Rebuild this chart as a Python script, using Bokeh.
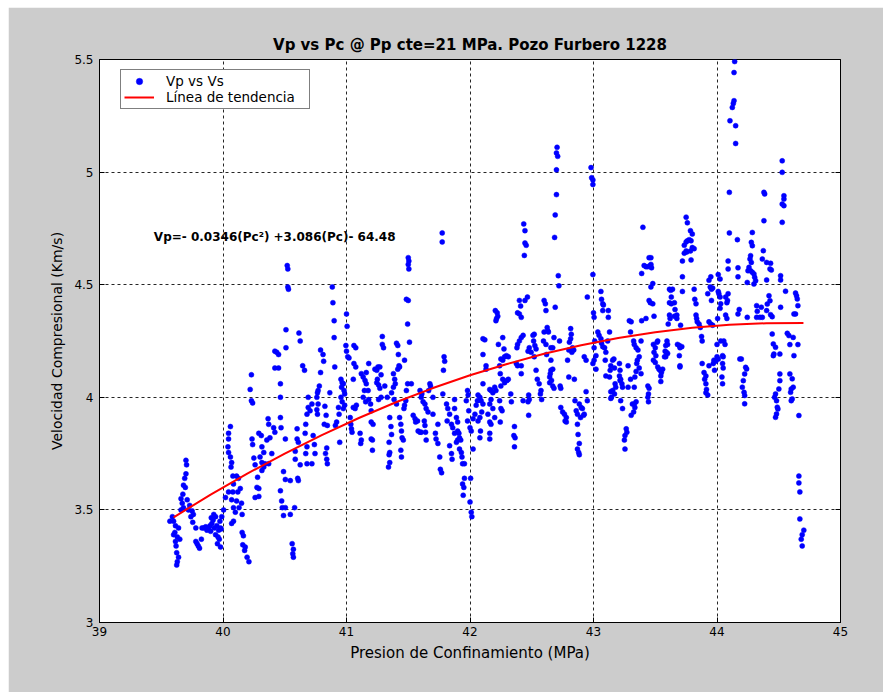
from bokeh.plotting import figure
from bokeh.models import FixedTicker, LinearAxis, Label, Range1d, Spacer, CustomLabelingPolicy
from bokeh.layouts import row, column
from bokeh.embed import file_html
from bokeh.resources import INLINE

titulo = "Vp vs Pc @ Pp cte=21 MPa. Pozo Furbero 1228"
etiqueta_x = "Presion de Confinamiento (MPa)"
etiqueta_y = "Velocidad Compresional (Km/s)"
serie_puntos = "Vp vs Vs"
serie_tendencia = "Línea de tendencia"
ecuacion = "Vp=- 0.0346(Pc²) +3.086(Pc)- 64.48"
ecuacion_pc = 39.44
ecuacion_vp = 4.71

x_ticks = [39, 40, 41, 42, 43, 44, 45]
y_ticks = [3.0, 3.5, 4.0, 4.5, 5.0, 5.5]
y_tick_labels = ["3", "3.5", "4", "4.5", "5", "5.5"]

# (Pc MPa, Vp km/s)
grupo_39_40 = [
    (39.57, 3.45), (39.60, 3.45), (39.615, 3.43), (39.61, 3.40), (39.63, 3.38), (39.615, 3.36),
    (39.65, 3.37), (39.62, 3.34), (39.64, 3.29), (39.63, 3.27), (39.625, 3.255), (39.70, 3.72),
    (39.705, 3.70), (39.69, 3.64), (39.68, 3.61), (39.695, 3.60), (39.71, 3.545), (39.67, 3.53),
    (39.68, 3.51), (39.66, 3.50), (39.73, 3.52), (39.75, 3.495), (39.76, 3.48), (39.74, 3.47),
    (39.755, 3.445), (39.78, 3.42), (39.78, 3.36), (39.80, 3.34), (39.81, 3.33), (39.825, 3.37),
    (39.83, 3.42), (39.86, 3.425), (39.885, 3.42), (39.91, 3.44), (39.905, 3.465), (39.925, 3.48),
    (39.93, 3.42), (39.95, 3.43), (39.965, 3.41), (39.98, 3.42), (39.985, 3.415), (39.96, 3.38),
    (39.97, 3.37), (39.94, 3.39), (39.955, 3.35), (39.98, 3.335), (39.87, 3.41), (39.895, 3.43),
    (39.92, 3.455), (39.94, 3.47), (39.90, 3.405), (39.845, 3.42), (39.59, 3.47), (39.64, 3.42),
    (39.60, 3.39), (39.625, 3.31), (39.66, 3.55), (39.675, 3.57), (39.70, 3.66), (39.72, 3.50),
    (39.79, 3.35), (39.975, 3.45), (39.99, 3.47),
]
grupo_40_405 = [
    (40.06, 3.87), (40.045, 3.84), (40.045, 3.815), (40.04, 3.78), (40.045, 3.755), (40.06, 3.735),
    (40.07, 3.71), (40.065, 3.69), (40.08, 3.65), (40.11, 3.65), (40.125, 3.64), (40.085, 3.615),
    (40.045, 3.58), (40.08, 3.58), (40.12, 3.58), (40.14, 3.595), (40.02, 3.555), (40.07, 3.545),
    (40.11, 3.54), (40.15, 3.53), (40.085, 3.51), (40.13, 3.51), (40.005, 3.50), (40.10, 3.49),
    (40.155, 3.48), (40.085, 3.45), (40.07, 3.44), (40.155, 3.40), (40.165, 3.385), (40.16, 3.345),
    (40.18, 3.335), (40.175, 3.32), (40.195, 3.29), (40.21, 3.27), (40.23, 4.10), (40.22, 4.035),
    (40.23, 3.985), (40.24, 3.975), (40.235, 3.815), (40.24, 3.79), (40.29, 3.84), (40.31, 3.83),
    (40.315, 3.78), (40.33, 3.755), (40.30, 3.735), (40.25, 3.73), (40.26, 3.70), (40.315, 3.71),
    (40.34, 3.705), (40.28, 3.645), (40.275, 3.60), (40.29, 3.595), (40.26, 3.555), (40.29, 3.56),
    (40.315, 3.675), (40.33, 3.69), (40.365, 3.905), (40.37, 3.88), (40.38, 3.82), (40.355, 3.81),
    (40.41, 3.865), (40.42, 3.845), (40.395, 3.75), (40.37, 3.705), (40.42, 4.205), (40.435, 4.20),
    (40.45, 4.19), (40.42, 4.13), (40.45, 4.13), (40.465, 4.06), (40.465, 4.0), (40.465, 3.91),
    (40.47, 3.865), (40.49, 3.67), (40.465, 3.585), (40.475, 3.54), (40.48, 3.51), (40.49, 3.475),
]
grupo_405_41 = [
    (40.51, 4.30), (40.51, 4.22), (40.505, 3.815), (40.505, 3.635), (40.545, 3.63), (40.505, 3.51),
    (40.545, 3.48), (40.58, 3.51), (40.56, 3.35), (40.57, 3.325), (40.565, 3.305), (40.57, 3.29),
    (40.615, 4.285), (40.625, 4.25), (40.645, 4.14), (40.66, 4.12), (40.60, 3.86), (40.60, 3.815),
    (40.61, 3.80), (40.585, 3.76), (40.585, 3.725), (40.625, 3.70), (40.605, 3.64), (40.61, 3.63),
    (40.665, 3.84), (40.68, 3.925), (40.69, 3.955), (40.69, 4.0), (40.705, 3.94), (40.67, 3.88),
    (40.68, 3.78), (40.67, 3.75), (40.68, 3.705), (40.53, 4.48), (40.525, 4.49), (40.52, 4.585),
    (40.525, 4.57), (40.73, 3.83), (40.74, 3.79), (40.745, 3.75), (40.72, 3.705), (40.72, 3.97),
    (40.79, 4.21), (40.81, 4.19), (40.815, 4.16), (40.79, 4.11), (40.78, 4.05), (40.77, 4.03),
    (40.765, 4.02), (40.76, 4.0), (40.77, 3.97), (40.76, 3.945), (40.765, 3.925), (40.825, 3.96),
    (40.835, 3.92), (40.82, 3.88), (40.845, 3.875), (40.84, 3.775), (40.83, 3.75), (40.84, 3.725),
    (40.845, 3.705), (40.865, 4.02), (40.885, 4.49), (40.89, 4.42), (40.90, 4.34), (40.90, 4.265),
    (40.905, 4.135), (40.92, 3.89), (40.91, 3.875), (40.935, 3.955), (40.94, 3.925), (40.945, 3.80),
    (40.955, 4.08), (40.965, 4.065), (40.975, 4.06), (40.96, 4.045), (40.98, 4.03), (40.985, 4.015),
    (40.955, 4.0), (40.965, 3.98), (40.985, 3.965), (40.975, 3.95),
]
grupo_41_415 = [
    (41.0, 4.37), (41.005, 4.315), (40.995, 4.23), (41.0, 4.205), (41.01, 4.18), (41.02, 4.175),
    (41.03, 3.91), (41.035, 3.88), (41.04, 3.86), (41.045, 3.845), (41.055, 3.955), (41.07, 3.95),
    (41.08, 3.965), (41.06, 4.23), (41.075, 4.22), (41.06, 4.15), (41.075, 4.135), (41.055, 4.08),
    (41.12, 4.105), (41.135, 4.09), (41.15, 4.075), (41.16, 4.06), (41.18, 4.15), (41.16, 4.11),
    (41.175, 4.03), (41.18, 3.99), (41.195, 3.97), (41.20, 3.94), (41.145, 4.03), (41.135, 4.0),
    (41.155, 3.98), (41.11, 3.84), (41.12, 3.81), (41.115, 3.795), (41.20, 3.89), (41.215, 3.88),
    (41.20, 3.815), (41.21, 3.81), (41.21, 3.765), (41.23, 4.125), (41.245, 4.12), (41.255, 4.135),
    (41.27, 4.135), (41.28, 4.10), (41.25, 4.08), (41.245, 4.065), (41.26, 4.055), (41.27, 4.04),
    (41.28, 4.0), (41.26, 3.99), (41.29, 4.27), (41.29, 4.235), (41.30, 4.22), (41.31, 4.05),
    (41.33, 4.0), (41.35, 3.91), (41.36, 3.87), (41.365, 3.835), (41.345, 3.80), (41.35, 3.755),
    (41.345, 3.745), (41.35, 3.71), (41.34, 3.69), (41.38, 4.105), (41.39, 4.08), (41.395, 4.06),
    (41.38, 4.045), (41.365, 4.02), (41.385, 3.99), (41.405, 3.97), (41.405, 4.24), (41.415, 4.23),
    (41.42, 4.19), (41.425, 4.14), (41.43, 4.135), (41.415, 4.125), (41.43, 3.91), (41.44, 3.88),
    (41.445, 3.85), (41.45, 3.82), (41.46, 3.81), (41.44, 3.765), (41.445, 3.735), (41.47, 4.165),
    (41.485, 4.03), (41.48, 3.985), (41.47, 3.965), (41.465, 3.95), (41.495, 4.06), (41.485, 4.435),
    (41.50, 4.43), (41.495, 4.325),
]
grupo_415_42 = [
    (41.51, 4.245), (41.50, 4.62), (41.505, 4.605), (41.50, 4.59), (41.505, 4.57), (41.525, 4.06),
    (41.54, 3.92), (41.555, 3.905), (41.56, 3.89), (41.575, 3.895), (41.58, 3.85), (41.595, 3.845),
    (41.605, 3.845), (41.595, 4.03), (41.61, 4.015), (41.605, 4.0), (41.62, 3.98), (41.635, 3.97),
    (41.645, 3.95), (41.66, 3.935), (41.63, 3.895), (41.635, 3.875), (41.64, 3.845), (41.645, 3.81),
    (41.675, 4.06), (41.68, 4.05), (41.665, 4.03), (41.70, 4.0), (41.70, 3.925), (41.72, 3.84),
    (41.725, 3.815), (41.74, 3.795), (41.755, 3.735), (41.76, 3.68), (41.77, 3.665), (41.74, 3.88),
    (41.78, 4.015), (41.775, 4.73), (41.775, 4.69), (41.79, 4.18), (41.795, 4.16), (41.785, 4.12),
    (41.81, 3.97), (41.82, 3.95), (41.815, 3.895), (41.835, 3.925), (41.85, 3.88), (41.86, 3.865),
    (41.875, 3.99), (41.875, 3.95), (41.89, 3.91), (41.90, 3.89), (41.90, 3.85), (41.91, 3.84),
    (41.915, 3.82), (41.925, 3.81), (41.835, 3.785), (41.85, 3.75), (41.855, 3.725), (41.89, 3.80),
    (41.90, 3.81), (41.915, 3.77), (41.93, 3.755), (41.935, 3.735), (41.94, 3.705), (41.955, 3.705),
    (41.875, 3.84), (41.955, 3.64), (41.94, 3.615), (41.95, 3.60), (41.945, 3.565), (41.98, 4.03),
    (41.985, 4.01), (41.97, 3.985), (41.99, 3.94), (41.98, 3.895),
]
grupo_42_425 = [
    (42.0, 3.865), (42.01, 3.85), (42.025, 3.77), (42.005, 3.64), (42.0, 3.535), (42.01, 3.49),
    (42.015, 3.47), (42.025, 3.905), (42.04, 3.925), (42.05, 3.965), (42.06, 3.985), (42.065, 4.01),
    (42.08, 4.0), (42.09, 3.985), (42.105, 3.97), (42.095, 3.935), (42.08, 3.91), (42.065, 3.895),
    (42.085, 3.85), (42.08, 3.82), (42.105, 4.06), (42.13, 4.125), (42.13, 4.14), (42.105, 4.26),
    (42.12, 4.255), (42.105, 4.19), (42.16, 4.035), (42.17, 4.03), (42.185, 4.02), (42.20, 4.045),
    (42.21, 4.03), (42.17, 3.99), (42.16, 3.97), (42.145, 3.925), (42.16, 3.89), (42.17, 3.88),
    (42.16, 3.84), (42.16, 3.815), (42.20, 3.91), (42.185, 3.95), (42.205, 4.385), (42.22, 4.375),
    (42.225, 4.36), (42.215, 4.35), (42.21, 4.34), (42.23, 4.235), (42.265, 4.265), (42.275, 4.215),
    (42.25, 4.17), (42.265, 4.165), (42.28, 4.18), (42.295, 4.185), (42.31, 4.18), (42.24, 4.14),
    (42.245, 4.105), (42.265, 4.08), (42.28, 4.065), (42.30, 4.075), (42.31, 4.08), (42.25, 4.05),
    (42.24, 3.985), (42.25, 3.95), (42.26, 3.94), (42.245, 3.89), (42.33, 4.015), (42.335, 3.98),
    (42.36, 3.87), (42.355, 3.83), (42.365, 3.82), (42.36, 3.78), (42.375, 4.15), (42.385, 4.14),
    (42.415, 4.14), (42.415, 4.105), (42.40, 4.43), (42.41, 4.405), (42.385, 4.375), (42.40, 4.37),
    (42.415, 4.355), (42.43, 4.275), (42.415, 4.265), (42.40, 4.25), (42.385, 4.235), (42.38, 4.22),
    (42.43, 3.985), (42.435, 4.77), (42.445, 4.74), (42.445, 4.685), (42.455, 4.675), (42.44, 4.63),
    (42.465, 4.445), (42.445, 4.43), (42.47, 4.205), (42.48, 4.22), (42.495, 4.20), (42.475, 4.01),
    (42.48, 3.99), (42.47, 3.98), (42.475, 3.92),
]
grupo_425_43 = [
    (42.51, 4.275), (42.52, 4.28), (42.515, 4.25), (42.525, 4.23), (42.535, 4.215), (42.52, 4.18),
    (42.535, 4.12), (42.545, 4.08), (42.56, 4.06), (42.575, 4.03), (42.57, 4.015), (42.58, 3.99),
    (42.60, 4.43), (42.61, 4.415), (42.615, 4.385), (42.625, 4.31), (42.63, 4.295), (42.635, 4.29),
    (42.62, 4.19), (42.645, 4.09), (42.645, 4.065), (42.60, 4.29), (42.595, 4.25), (42.615, 4.235),
    (42.65, 4.105), (42.705, 5.11), (42.70, 5.085), (42.71, 5.07), (42.70, 5.01), (42.70, 4.90),
    (42.69, 4.81), (42.685, 4.71), (42.715, 4.54), (42.72, 4.495), (42.69, 4.40), (42.68, 4.265),
    (42.655, 4.22), (42.67, 4.22), (42.655, 4.165), (42.67, 4.125), (42.655, 4.12), (42.66, 4.075),
    (42.67, 4.05), (42.68, 4.04), (42.725, 4.25), (42.73, 4.05), (42.735, 4.04), (42.735, 3.955),
    (42.75, 3.935), (42.765, 3.925), (42.78, 3.91), (42.77, 3.895), (42.78, 3.89), (42.80, 4.09),
    (42.815, 4.305), (42.82, 4.28), (42.815, 4.26), (42.805, 4.245), (42.80, 4.21), (42.79, 4.165),
    (42.83, 4.22), (42.84, 4.21), (42.825, 4.20), (42.845, 4.08), (42.85, 3.985), (42.86, 3.94),
    (42.87, 3.925), (42.885, 3.97), (42.90, 3.955), (42.91, 3.95), (42.895, 3.91), (42.92, 3.92),
    (42.87, 3.88), (42.875, 3.835), (42.885, 3.795), (42.87, 3.77), (42.88, 3.755), (42.885, 3.745),
    (42.94, 4.025), (42.95, 3.985), (42.925, 3.925), (42.925, 4.18), (42.94, 4.165), (42.95, 4.445),
    (42.98, 5.02), (42.985, 4.975), (42.995, 4.965), (42.995, 4.945), (42.995, 4.545), (42.995, 4.15),
]
grupo_43_435 = [
    (43.0, 4.375), (43.005, 4.355), (43.01, 4.25), (43.005, 4.22), (43.02, 4.185), (43.005, 4.165),
    (43.02, 4.125), (43.035, 4.29), (43.045, 4.275), (43.06, 4.26), (43.065, 4.24), (43.075, 4.225),
    (43.06, 4.47), (43.065, 4.435), (43.075, 4.415), (43.075, 4.385), (43.08, 4.41), (43.09, 4.22),
    (43.10, 4.20), (43.115, 4.25), (43.12, 4.355), (43.12, 4.385), (43.13, 4.29), (43.095, 4.165),
    (43.10, 4.095), (43.13, 4.09), (43.135, 4.12), (43.14, 4.14), (43.155, 4.165), (43.17, 4.13),
    (43.175, 4.06), (43.18, 4.045), (43.14, 4.025), (43.155, 4.03), (43.145, 4.0), (43.14, 3.995),
    (43.17, 4.015), (43.165, 4.17), (43.21, 4.15), (43.215, 4.12), (43.21, 4.095), (43.22, 4.08),
    (43.215, 4.075), (43.23, 4.06), (43.235, 4.045), (43.22, 3.985), (43.235, 3.95), (43.265, 3.86),
    (43.27, 3.845), (43.255, 3.83), (43.25, 3.81), (43.255, 3.77), (43.29, 4.34), (43.305, 4.335),
    (43.30, 4.29), (43.28, 4.14), (43.30, 4.08), (43.28, 4.045), (43.305, 3.92), (43.315, 3.97),
    (43.33, 3.97), (43.335, 3.955), (43.325, 3.935), (43.345, 3.98), (43.325, 4.25), (43.33, 4.235),
    (43.345, 4.22), (43.36, 4.21), (43.37, 4.18), (43.355, 4.165), (43.35, 4.15), (43.345, 4.115),
    (43.335, 4.09), (43.33, 4.045), (43.385, 4.25), (43.39, 4.34), (43.425, 4.35), (43.385, 4.105),
    (43.37, 4.13), (43.40, 4.755), (43.39, 4.55), (43.41, 4.585), (43.425, 4.58), (43.44, 4.58),
    (43.45, 4.62), (43.46, 4.585), (43.45, 4.43), (43.44, 4.05), (43.45, 4.04), (43.445, 4.015),
    (43.44, 4.0), (43.445, 3.98), (43.465, 4.62), (43.465, 4.59), (43.47, 4.575), (43.48, 4.505),
    (43.465, 4.49), (43.46, 4.42), (43.48, 4.415), (43.49, 4.36), (43.485, 4.235), (43.49, 4.20),
    (43.485, 4.165),
]
grupo_435_44 = [
    (43.50, 4.22), (43.505, 4.185), (43.50, 4.155), (43.515, 4.245), (43.52, 4.25), (43.52, 4.135),
    (43.53, 4.125), (43.54, 4.12), (43.55, 4.11), (43.545, 4.095), (43.56, 4.125), (43.575, 4.18),
    (43.58, 4.205), (43.585, 4.23), (43.595, 4.25), (43.60, 4.235), (43.59, 4.20), (43.585, 4.18),
    (43.60, 4.195), (43.545, 4.07), (43.615, 4.48), (43.625, 4.475), (43.64, 4.48), (43.63, 4.445),
    (43.615, 4.42), (43.63, 4.415), (43.655, 4.42), (43.66, 4.39), (43.615, 4.365), (43.62, 4.35),
    (43.605, 4.325), (43.655, 4.36), (43.675, 4.365), (43.675, 4.35), (43.705, 4.32), (43.68, 4.235),
    (43.695, 4.23), (43.70, 4.22), (43.715, 4.225), (43.695, 4.185), (43.70, 4.14), (43.70, 4.135),
    (43.72, 4.535), (43.72, 4.47), (43.72, 4.605), (43.735, 4.675), (43.75, 4.69), (43.76, 4.695),
    (43.775, 4.70), (43.79, 4.695), (43.80, 4.665), (43.815, 4.66), (43.785, 4.65), (43.75, 4.65),
    (43.735, 4.64), (43.755, 4.645), (43.79, 4.61), (43.785, 4.74), (43.80, 4.725), (43.75, 4.80),
    (43.76, 4.775), (43.815, 4.48), (43.82, 4.435), (43.83, 4.415), (43.83, 4.365), (43.835, 4.35),
    (43.84, 4.335), (43.855, 4.325), (43.865, 4.31), (43.875, 4.27), (43.88, 4.25), (43.88, 4.15),
    (43.895, 4.11), (43.91, 4.095), (43.90, 4.08), (43.91, 4.06), (43.915, 4.035), (43.91, 4.02),
    (43.925, 4.01), (43.935, 4.14), (43.925, 4.46), (43.935, 4.52), (43.95, 4.535), (43.945, 4.49),
    (43.955, 4.48), (43.965, 4.485), (43.955, 4.43), (43.935, 4.335), (43.95, 4.325), (43.965, 4.32),
    (43.975, 4.165), (43.97, 4.15), (43.98, 4.12), (43.99, 4.16),
]
grupo_44_45 = [
    (44.0, 4.18), (44.01, 4.17), (44.0, 4.235), (44.005, 4.35), (44.01, 4.47), (44.015, 4.46),
    (44.025, 4.445), (44.03, 4.415), (44.025, 4.395), (44.01, 4.545), (44.025, 4.525), (44.045, 4.185),
    (44.05, 4.18), (44.045, 4.15), (44.05, 4.13), (44.04, 4.09), (44.045, 4.06), (44.03, 4.25),
    (44.055, 4.25), (44.065, 4.235), (44.07, 4.365), (44.08, 4.35), (44.07, 4.445), (44.09, 4.46),
    (44.085, 4.43), (44.08, 4.42), (44.09, 4.605), (44.10, 4.91), (44.10, 4.73), (44.09, 4.57),
    (44.165, 4.70), (44.17, 4.575), (44.17, 4.535), (44.18, 4.39), (44.17, 4.37), (44.185, 4.17),
    (44.143, 5.491), (44.138, 5.442), (44.138, 5.317), (44.132, 5.305), (44.124, 5.287), (44.105, 5.228),
    (44.151, 5.206), (44.151, 5.127), (44.528, 5.05), (44.528, 4.999), (44.38, 4.91), (44.386, 4.903),
    (44.38, 4.784), (44.542, 4.895), (44.542, 4.88), (44.528, 4.858), (44.542, 4.851), (44.528, 4.777),
    (44.286, 4.732), (44.278, 4.688), (44.286, 4.673), (44.272, 4.629), (44.267, 4.614), (44.278, 4.599),
    (44.259, 4.577), (44.251, 4.562), (44.272, 4.562), (44.286, 4.555), (44.299, 4.548), (44.305, 4.533),
    (44.313, 4.518), (44.299, 4.503), (44.245, 4.51), (44.375, 4.651), (44.367, 4.614), (44.402, 4.599),
    (44.434, 4.595), (44.429, 4.57), (44.44, 4.565), (44.402, 4.521), (44.515, 4.54), (44.515, 4.521),
    (44.555, 4.471), (44.636, 4.463), (44.644, 4.451), (44.65, 4.437), (44.655, 4.407), (44.636, 4.37),
    (44.245, 4.355), (44.321, 4.407), (44.326, 4.382), (44.321, 4.355), (44.348, 4.355), (44.367, 4.355),
    (44.359, 4.40), (44.402, 4.385), (44.421, 4.451), (44.429, 4.429), (44.407, 4.414), (44.434, 4.367),
    (44.447, 4.358), (44.515, 4.40), (44.623, 4.37), (44.447, 4.281), (44.456, 4.237), (44.461, 4.192),
    (44.456, 4.185), (44.474, 4.222), (44.509, 4.192), (44.569, 4.284), (44.582, 4.274), (44.617, 4.266),
    (44.655, 4.234), (44.59, 4.234), (44.623, 4.185), (44.197, 4.17), (44.232, 4.133), (44.24, 4.126),
    (44.224, 4.104), (44.213, 4.074), (44.205, 4.045), (44.219, 4.022), (44.224, 4.008), (44.224, 3.971),
    (44.509, 4.104), (44.509, 4.074), (44.501, 4.037), (44.474, 4.015), (44.466, 4.0), (44.482, 3.985),
    (44.488, 3.956), (44.493, 3.948), (44.482, 3.926), (44.474, 3.911), (44.59, 4.104), (44.609, 4.082),
    (44.617, 4.045), (44.601, 4.037), (44.596, 4.022), (44.609, 3.993), (44.601, 3.985), (44.663, 3.919),
    (44.663, 3.65), (44.663, 3.62), (44.671, 3.58), (44.671, 3.46), (44.703, 3.41), (44.69, 3.39),
    (44.682, 3.37), (44.69, 3.34),
]

# trend line (Línea de tendencia) values
tend_pc = [39.6, 39.9, 40.2, 40.5, 40.8, 41.1, 41.4, 41.7, 42.0, 42.3, 42.6, 42.9,
           43.2, 43.5, 43.8, 44.1, 44.4, 44.7]
tend_vp = [3.467, 3.568, 3.662, 3.750, 3.832, 3.908, 3.978, 4.041, 4.098, 4.148, 4.193, 4.231,
           4.263, 4.289, 4.309, 4.322, 4.329, 4.330]

grupos = [grupo_39_40, grupo_40_405, grupo_405_41, grupo_41_415, grupo_415_42,
          grupo_42_425, grupo_425_43, grupo_43_435, grupo_435_44, grupo_44_45]
pc = [a for g in grupos for a, _ in g]
vp = [b for g in grupos for _, b in g]

FONT = "DejaVu Sans"

p = figure(width=875, height=685, x_range=Range1d(39, 45), y_range=Range1d(3, 5.5),
           output_backend="svg", toolbar_location=None,
           min_border_left=91, min_border_right=43, min_border_top=52, min_border_bottom=70)
p.border_fill_color = "#cccccc"
p.background_fill_color = "white"
p.outline_line_color = "black"
p.outline_line_width = 1

p.title.text = titulo
p.title.align = "center"
p.title.text_font = FONT
p.title.text_font_size = "15px"
p.title.text_font_style = "bold"
p.title.text_color = "black"
p.title.standoff = 11

for ax in p.xaxis:
    ax.ticker = FixedTicker(ticks=x_ticks)
    ax.major_label_standoff = 4
for ax in p.yaxis:
    ax.ticker = FixedTicker(ticks=y_ticks)
    ax.major_label_overrides = {t: l for t, l in zip(y_ticks, y_tick_labels)}
    ax.major_label_standoff = 6

for ax in p.xaxis + p.yaxis:
    ax.major_tick_in = 5
    ax.major_tick_out = 0
    ax.minor_tick_line_color = None
    ax.axis_line_color = "black"
    ax.major_tick_line_color = "black"
    ax.major_label_text_font = FONT
    ax.major_label_text_font_size = "12px"
    ax.major_label_text_color = "black"
    ax.axis_label_text_font = FONT
    ax.axis_label_text_font_style = "normal"
    ax.axis_label_text_color = "black"

p.xaxis.axis_label = etiqueta_x
p.xaxis.axis_label_text_font_size = "15px"
p.xaxis.axis_label_standoff = 5
p.yaxis.axis_label = etiqueta_y
p.yaxis.axis_label_text_font_size = "14px"
p.yaxis.axis_label_standoff = 6

right_axis = LinearAxis(ticker=FixedTicker(ticks=y_ticks), major_tick_in=5, major_tick_out=0,
                        minor_tick_line_color=None,
                        major_label_policy=CustomLabelingPolicy(code="return new Set()"),
                        axis_line_color="black")
p.add_layout(right_axis, "right")

p.xgrid.ticker = FixedTicker(ticks=x_ticks)
p.ygrid.ticker = FixedTicker(ticks=y_ticks)
for g in (p.xgrid, p.ygrid):
    g.grid_line_color = "black"
    g.grid_line_dash = "3 3"
    g.grid_line_width = 1
    g.grid_line_alpha = 0.85

p.scatter(pc, vp, size=5, marker="circle", fill_color="#0000ff", line_color="#0000ff",
          line_width=0.5, legend_label=serie_puntos)
p.line(tend_pc, tend_vp, line_color="#ff0000", line_width=2, legend_label=serie_tendencia)

p.add_layout(Label(x=ecuacion_pc, y=ecuacion_vp, text=ecuacion, text_font=FONT,
                   text_font_style="bold", text_font_size="12px", text_color="black",
                   text_baseline="middle", text_align="left"))

lg = p.legend[0]
lg.location = (21, 513)
lg.background_fill_color = "white"
lg.background_fill_alpha = 1
lg.border_line_color = "black"
lg.border_line_width = 1
lg.padding = 3
lg.spacing = 0
lg.margin = 0
lg.glyph_width = 30
lg.glyph_height = 16
lg.label_height = 16
lg.label_width = 140
lg.label_standoff = 12
lg.label_text_font = FONT
lg.label_text_font_size = "13.5px"
lg.label_text_color = "black"

page = row(Spacer(width=8, height=692), column(Spacer(width=875, height=7), p))

open("out.html", "w").write(file_html(page, INLINE))
